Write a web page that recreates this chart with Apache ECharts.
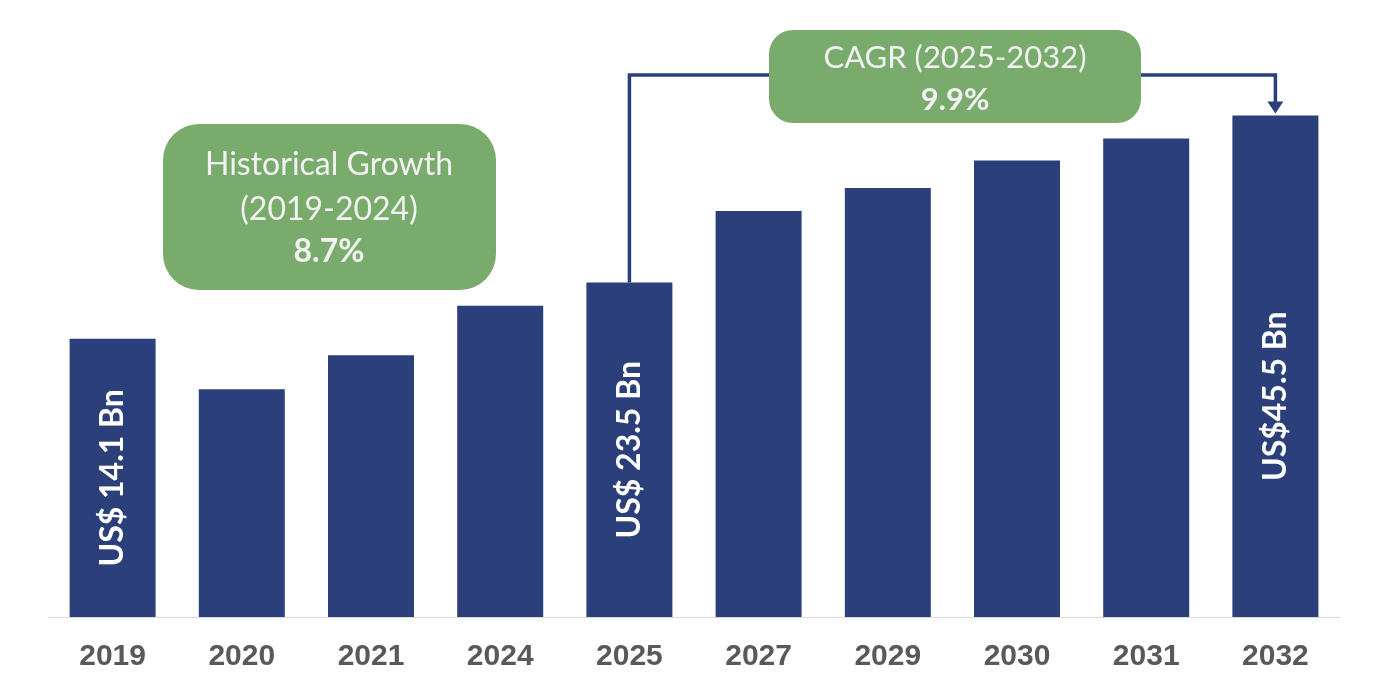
<!DOCTYPE html>
<html>
  <head>
    <meta charset="utf-8">
    <title>Market size 2019-2032</title>
    <script src="https://cdn.jsdelivr.net/npm/echarts@6/dist/echarts.min.js"></script>
    <style>
      html, body { margin: 0; padding: 0; background: #fff; }
      #chart { width: 1376px; height: 694px; }
    </style>
  </head>
  <body>
    <div id="chart"></div>
    <script>
      // data (bar heights on a 0-50 scale, labels as printed)
      var years = ['2019', '2020', '2021', '2024', '2025', '2027', '2029', '2030', '2031', '2032'];
      var values = [25.3, 20.7, 23.8, 28.3, 30.4, 36.9, 39.0, 41.5, 43.5, 45.6];
      var barLabels = ['US$ 14.1 Bn', '', '', '', 'US$ 23.5 Bn', '', '', '', '', 'US$45.5 Bn'];
      var histText = ['Historical Growth', '(2019-2024)', '8.7%'];
      var cagrText = ['CAGR (2025-2032)', '9.9%'];

      var BLUE = '#2b407a';
      var GREEN = '#78ab6c';

      var chart = echarts.init(document.getElementById('chart'));

      var seriesData = [];
      for (var i = 0; i < values.length; i++) {
        var item = { value: values[i] };
        if (barLabels[i] === 'US$45.5 Bn') {
          item.label = { offset: [-30, 0] };
        }
        seriesData.push(item);
      }

      chart.setOption({
        animation: false,
        grid: { left: 48, right: 36, top: 67, bottom: 77 },
        xAxis: {
          type: 'category',
          data: years,
          axisLine: { lineStyle: { color: '#d9d9d9', width: 1 } },
          axisTick: { length: 10, lineStyle: { color: '#d9d9d9' } },
          axisLabel: {
            margin: 25,
            color: '#595959',
            fontFamily: 'Liberation Sans',
            fontWeight: 'bold',
            fontSize: 30
          }
        },
        yAxis: {
          type: 'value',
          min: 0,
          max: 50,
          show: false,
          splitLine: { show: false }
        },
        series: [{
          type: 'bar',
          data: seriesData,
          barWidth: 86,
          itemStyle: { color: BLUE },
          label: {
            show: true,
            position: 'inside',
            rotate: 90,
            color: '#fff',
            fontFamily: 'Lato',
            fontWeight: 'bold',
            fontSize: 32,
            formatter: function (p) { return barLabels[p.dataIndex]; }
          }
        }]
      });

      // annotation boxes and the CAGR connector, tied to the bar positions
      var p25 = chart.convertToPixel({ seriesIndex: 0 }, [4, values[4]]);
      var p32 = chart.convertToPixel({ seriesIndex: 0 }, [9, values[9]]);
      var lineY = 75;

      chart.setOption({
        graphic: [
          {
            type: 'polyline',
            shape: { points: [[p25[0], p25[1]], [p25[0], lineY], [800, lineY]] },
            style: { stroke: BLUE, lineWidth: 3.5, fill: null }
          },
          {
            type: 'polyline',
            shape: { points: [[1110, lineY], [p32[0], lineY], [p32[0], p32[1] - 12]] },
            style: { stroke: BLUE, lineWidth: 3.5, fill: null }
          },
          {
            type: 'polygon',
            shape: { points: [[p32[0] - 8, p32[1] - 14], [p32[0] + 8, p32[1] - 14], [p32[0], p32[1] - 2]] },
            style: { fill: BLUE }
          },
          {
            type: 'rect',
            shape: { x: 769, y: 30, width: 372, height: 93, r: 24 },
            style: { fill: GREEN }
          },
          {
            type: 'text',
            x: 955, y: 58,
            style: {
              text: cagrText[0], fill: '#f2f2f2', fontFamily: 'Lato', fontSize: 31,
              align: 'center', verticalAlign: 'middle'
            }
          },
          {
            type: 'text',
            x: 955, y: 100,
            style: {
              text: cagrText[1], fill: '#f2f2f2', fontFamily: 'Lato', fontWeight: 'bold', fontSize: 31,
              align: 'center', verticalAlign: 'middle'
            }
          },
          {
            type: 'rect',
            shape: { x: 163, y: 124, width: 333, height: 166, r: 36 },
            style: { fill: GREEN }
          },
          {
            type: 'text',
            x: 329, y: 165,
            style: {
              text: histText[0], fill: '#f2f2f2', fontFamily: 'Lato', fontSize: 32,
              align: 'center', verticalAlign: 'middle'
            }
          },
          {
            type: 'text',
            x: 329, y: 210,
            style: {
              text: histText[1], fill: '#f2f2f2', fontFamily: 'Lato', fontSize: 32,
              align: 'center', verticalAlign: 'middle'
            }
          },
          {
            type: 'text',
            x: 329, y: 252,
            style: {
              text: histText[2], fill: '#f2f2f2', fontFamily: 'Lato', fontWeight: 'bold', fontSize: 32,
              align: 'center', verticalAlign: 'middle'
            }
          }
        ]
      });
    </script>
  </body>
</html>
